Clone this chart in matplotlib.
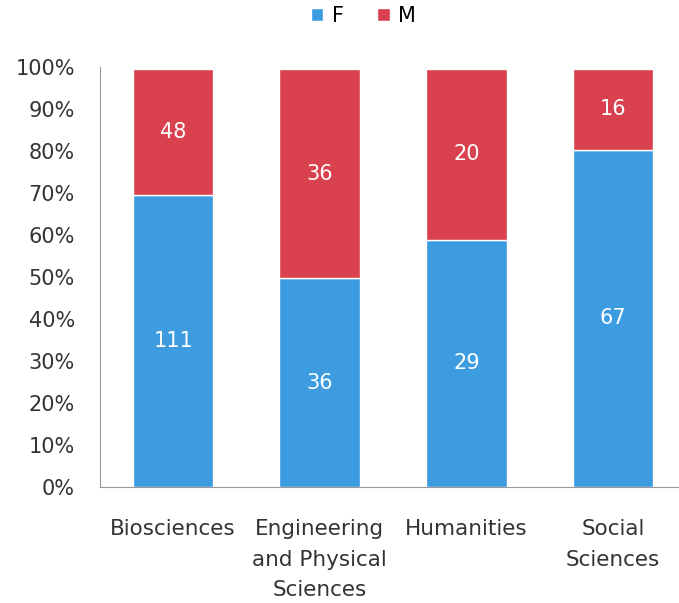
import matplotlib.pyplot as plt
import numpy as np

categories = ['Biosciences', 'Engineering\nand Physical\nSciences', 'Humanities', 'Social\nSciences']
female = [111, 36, 29, 67]
male = [48, 36, 20, 16]

blue = '#3d9be0'
red = '#d9414f'

f = np.array(female, dtype=float)
m = np.array(male, dtype=float)
tot = f + m
fp = f / tot * 99.5
mp = m / tot * 99.5

fig = plt.figure(figsize=(6.79, 6.03), dpi=100)
ax = fig.add_axes([0.147, 0.192, 0.853, 0.697])

x = np.arange(len(categories))
ax.bar(x, fp, width=0.55, color=blue, edgecolor='white', linewidth=1, label='F')
ax.bar(x, mp, bottom=fp, width=0.55, color=red, edgecolor='white', linewidth=1, label='M')

for i in range(len(x)):
    ax.text(x[i], fp[i] * 0.5, str(female[i]), ha='center', va='center',
            color='white', fontsize=15)
    ax.text(x[i], fp[i] + mp[i] * 0.5, str(male[i]), ha='center', va='center',
            color='white', fontsize=15)

ax.set_xlim(-0.5, 3.45)
ax.set_ylim(0, 100)
ax.set_yticks(np.arange(0, 101, 10))
ax.set_yticklabels([f'{v}%' for v in range(0, 101, 10)])
ax.set_xticks(x)
ax.set_xticklabels(categories, linespacing=1.65, va='top')
ax.tick_params(axis='both', length=0, labelsize=15, colors='#333333')
ax.tick_params(axis='x', labelsize=15.5, pad=23)
ax.tick_params(axis='y', pad=18)

for s in ['top', 'right']:
    ax.spines[s].set_visible(False)
for s in ['left', 'bottom']:
    ax.spines[s].set_color('#999999')
    ax.spines[s].set_linewidth(0.8)

ax.legend(loc='upper center', bbox_to_anchor=(0.455, 1.19), ncol=2, frameon=False,
          fontsize=15, handlelength=0.6, handleheight=0.6, columnspacing=1.6, handletextpad=0.4)

fig.savefig('out.png', dpi=100)
